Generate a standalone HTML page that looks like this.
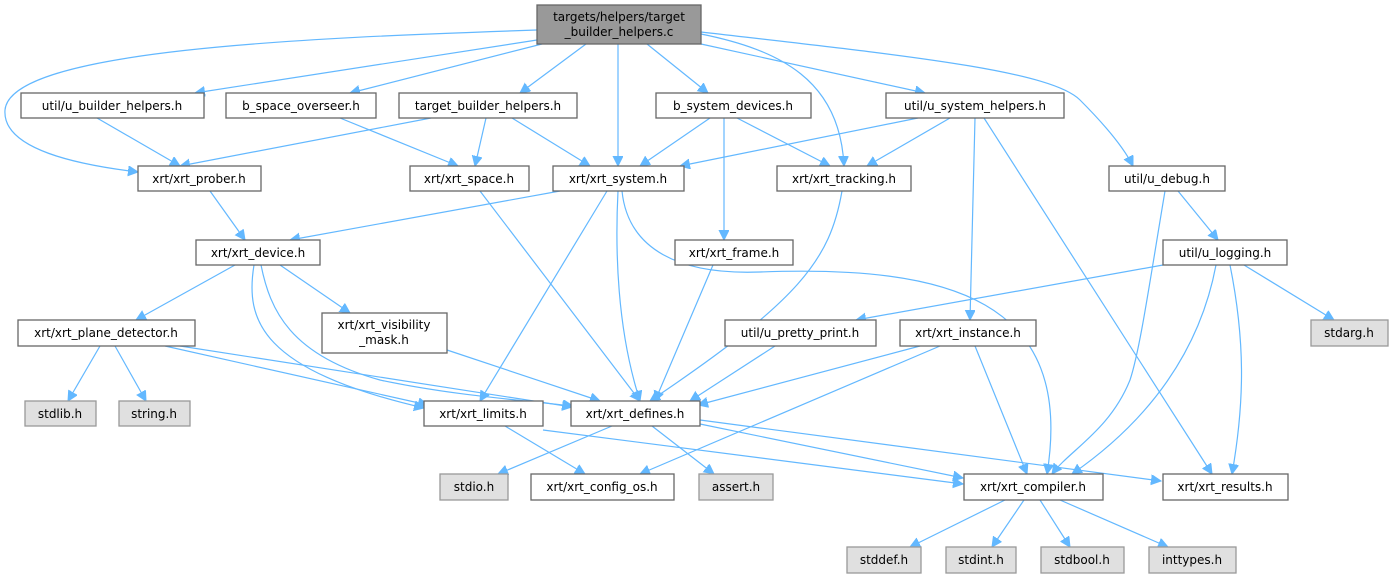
<!DOCTYPE html>
<html><head><meta charset="utf-8"><style>
html,body{margin:0;padding:0;background:#fff;width:1394px;height:579px;overflow:hidden}
svg text{font-family:"DejaVu Sans","Liberation Sans",sans-serif;font-size:12px;fill:#000;text-anchor:middle}
.n{fill:#fff;stroke:#666;stroke-width:1.3}
.g{fill:#e0e0e0;stroke:#999;stroke-width:1.3}
.e{fill:none;stroke:#63b8ff;stroke-width:1.2}
</style></head><body>
<svg width="1394" height="579" viewBox="0 0 1394 579" xmlns="http://www.w3.org/2000/svg">
<defs><marker id="a" markerUnits="userSpaceOnUse" markerWidth="12" markerHeight="12" refX="10" refY="5" orient="auto"><path d="M0,0 L10,5 L0,10 z" fill="#63b8ff" stroke="#63b8ff"/></marker></defs>
<g class="e" marker-end="url(#a)">
<path d="M537,40 L195,93"/>
<path d="M537,30 C300,38 10,50 5,110 C2,150 80,165 138,172"/>
<path d="M542,44 L350,93"/>
<path d="M586,44 L520,93"/>
<path d="M618,44 L618,166"/>
<path d="M647,44 L708,93"/>
<path d="M701,34 C780,50 840,80 844,166"/>
<path d="M701,44 L925,93"/>
<path d="M701,32 C900,55 1050,70 1080,100 C1110,130 1125,150 1133,166"/>
<path d="M97,118 L180,166"/>
<path d="M431,118 L180,166"/>
<path d="M340,118 L458,166"/>
<path d="M486,118 L475,166"/>
<path d="M512,118 L590,166"/>
<path d="M710,118 L640,166"/>
<path d="M724,118 L724,240"/>
<path d="M737,118 L830,166"/>
<path d="M918,118 L680,166"/>
<path d="M950,118 L867,166"/>
<path d="M975,118 L970,320"/>
<path d="M984,118 L1212,474"/>
<path d="M210,191 L245,240"/>
<path d="M560,191 L290,240"/>
<path d="M480,191 L640,401"/>
<path d="M607,191 L480,401"/>
<path d="M618,191 C615,250 617,330 640,401"/>
<path d="M622,191 C628,250 680,275 760,272 C950,265 1075,300 1047,474"/>
<path d="M842,191 C830,260 800,300 650,401"/>
<path d="M713,265 L655,401"/>
<path d="M1165,191 C1150,280 1140,350 1130,380 C1110,430 1070,450 1052,474"/>
<path d="M1178,191 L1218,240"/>
<path d="M1163,265 L856,320"/>
<path d="M1216,265 C1200,350 1150,420 1072,474"/>
<path d="M1230,265 C1245,340 1245,400 1232,474"/>
<path d="M1244,265 L1334,320"/>
<path d="M235,265 L136,320"/>
<path d="M280,265 L350,313"/>
<path d="M254,265 C245,320 260,370 424,408"/>
<path d="M261,265 C270,310 290,355 380,380 C450,395 520,400 573,406"/>
<path d="M100,346 L68,401"/>
<path d="M115,346 L146,401"/>
<path d="M165,346 L428,405"/>
<path d="M180,346 L572,407"/>
<path d="M447,350 L600,401"/>
<path d="M775,346 L690,401"/>
<path d="M920,346 L698,405"/>
<path d="M940,346 L640,474"/>
<path d="M975,346 L1027,474"/>
<path d="M505,426 L585,474"/>
<path d="M543,430 L963,484"/>
<path d="M612,426 L498,474"/>
<path d="M652,426 L714,474"/>
<path d="M700,424 L963,478"/>
<path d="M700,420 L1161,481"/>
<path d="M1005,500 L910,547"/>
<path d="M1024,500 L992,547"/>
<path d="M1040,500 L1070,547"/>
<path d="M1060,500 L1168,547"/>
</g>
<rect x="537" y="5" width="164" height="39" fill="#999" stroke="#666" stroke-width="1.3"/>
<text x="619" y="21">targets/helpers/target</text><text x="619" y="36">_builder_helpers.c</text>
<rect class="n" x="21" y="93" width="183" height="25"/><text x="112" y="110">util/u_builder_helpers.h</text>
<rect class="n" x="226" y="93" width="150" height="25"/><text x="301" y="110">b_space_overseer.h</text>
<rect class="n" x="399" y="93" width="178" height="25"/><text x="488" y="110">target_builder_helpers.h</text>
<rect class="n" x="656" y="93" width="155" height="25"/><text x="733" y="110">b_system_devices.h</text>
<rect class="n" x="886" y="93" width="178" height="25"/><text x="975" y="110">util/u_system_helpers.h</text>
<rect class="n" x="138" y="166" width="123" height="25"/><text x="199" y="183">xrt/xrt_prober.h</text>
<rect class="n" x="410" y="166" width="119" height="25"/><text x="469" y="183">xrt/xrt_space.h</text>
<rect class="n" x="553" y="166" width="131" height="25"/><text x="618" y="183">xrt/xrt_system.h</text>
<rect class="n" x="777" y="166" width="134" height="25"/><text x="844" y="183">xrt/xrt_tracking.h</text>
<rect class="n" x="1109" y="166" width="116" height="25"/><text x="1167" y="183">util/u_debug.h</text>
<rect class="n" x="196" y="240" width="124" height="25"/><text x="258" y="257">xrt/xrt_device.h</text>
<rect class="n" x="675" y="240" width="118" height="25"/><text x="734" y="257">xrt/xrt_frame.h</text>
<rect class="n" x="1163" y="240" width="124" height="25"/><text x="1225" y="257">util/u_logging.h</text>
<rect class="n" x="18" y="320" width="177" height="26"/><text x="106" y="337">xrt/xrt_plane_detector.h</text>
<rect class="n" x="322" y="313" width="125" height="40"/><text x="384" y="329">xrt/xrt_visibility</text><text x="384" y="344">_mask.h</text>
<rect class="n" x="725" y="320" width="151" height="26"/><text x="800" y="337">util/u_pretty_print.h</text>
<rect class="n" x="900" y="320" width="136" height="26"/><text x="968" y="337">xrt/xrt_instance.h</text>
<rect class="g" x="1311" y="320" width="77" height="26"/><text x="1349" y="337">stdarg.h</text>
<rect class="g" x="25" y="401" width="71" height="25"/><text x="60" y="418">stdlib.h</text>
<rect class="g" x="119" y="401" width="71" height="25"/><text x="154" y="418">string.h</text>
<rect class="n" x="424" y="401" width="119" height="25"/><text x="483" y="418">xrt/xrt_limits.h</text>
<rect class="n" x="571" y="401" width="129" height="25"/><text x="635" y="418">xrt/xrt_defines.h</text>
<rect class="g" x="440" y="474" width="68" height="26"/><text x="474" y="491">stdio.h</text>
<rect class="n" x="531" y="474" width="143" height="26"/><text x="602" y="491">xrt/xrt_config_os.h</text>
<rect class="g" x="699" y="474" width="74" height="26"/><text x="736" y="491">assert.h</text>
<rect class="n" x="964" y="474" width="139" height="26"/><text x="1033" y="491">xrt/xrt_compiler.h</text>
<rect class="n" x="1163" y="474" width="125" height="26"/><text x="1225" y="491">xrt/xrt_results.h</text>
<rect class="g" x="847" y="547" width="74" height="26"/><text x="884" y="564">stddef.h</text>
<rect class="g" x="946" y="547" width="70" height="26"/><text x="981" y="564">stdint.h</text>
<rect class="g" x="1041" y="547" width="83" height="26"/><text x="1082" y="564">stdbool.h</text>
<rect class="g" x="1149" y="547" width="87" height="26"/><text x="1192" y="564">inttypes.h</text>
</svg>
</body></html>
